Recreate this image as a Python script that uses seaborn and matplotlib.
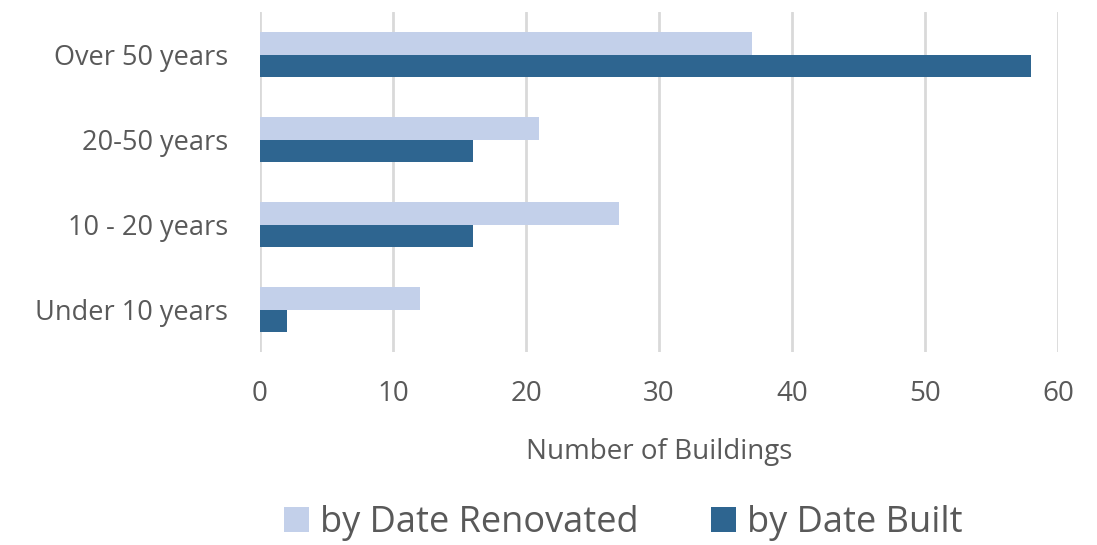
import pandas as pd
import seaborn as sns
import matplotlib.pyplot as plt

# 数据
categories = ['Over 50 years', '20-50 years', '10 - 20 years', 'Under 10 years']
renovated = [37, 21, 27, 12]
built = [58, 16, 16, 2]
series = ['by Date Renovated', 'by Date Built']

df = pd.DataFrame({
    'age': categories * 2,
    'count': renovated + built,
    'series': [series[0]] * 4 + [series[1]] * 4,
})

sns.set_theme(style='white')
plt.rcParams['font.family'] = ['Open Sans', 'DejaVu Sans']
text_color = '#595959'

fig = plt.figure(figsize=(10.97, 5.45), dpi=100)
ax = fig.add_axes([0.237, 0.354, 0.7275, 0.624])

sns.barplot(data=df, x='count', y='age', hue='series', order=categories,
            hue_order=series, palette=['#c3d0ea', '#2e6590'], orient='h',
            width=0.52, saturation=1, linewidth=0, ax=ax, legend=True)

ax.set_xlim(0, 60)
ax.set_xticks(range(0, 61, 10))
ax.grid(axis='x', color='#d9d9d9', linewidth=2)
ax.set_axisbelow(True)
for s in ax.spines.values():
    s.set_visible(False)
ax.tick_params(axis='both', length=0, colors=text_color)
ax.tick_params(axis='x', labelsize=20, pad=20)
ax.tick_params(axis='y', labelsize=19.5, pad=23)
ax.set_ylabel('')
ax.set_xlabel('Number of Buildings', fontsize=20, color=text_color, labelpad=22)

handles, labels = ax.get_legend_handles_labels()
ax.get_legend().remove()
fig.legend(handles, labels, loc='center', bbox_to_anchor=(0.568, 0.04),
           ncol=2, frameon=False, fontsize=26, labelcolor=text_color,
           handlelength=0.7, handleheight=0.7, handletextpad=0.3, columnspacing=2.0)

plt.savefig('out.png', dpi=100)
